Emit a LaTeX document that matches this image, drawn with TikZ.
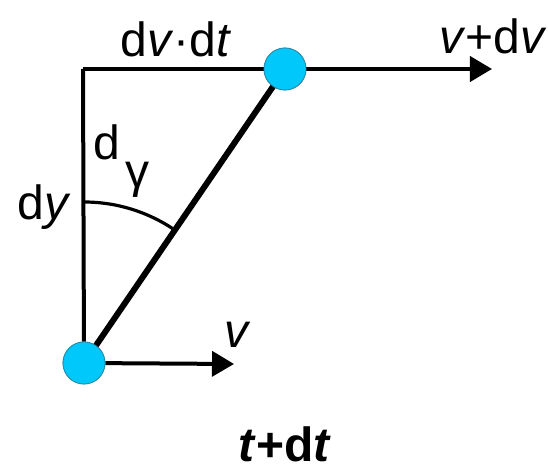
\documentclass[tikz,border=0pt]{standalone}
\usepackage{fontspec}
\setmainfont{Liberation Sans}
\usetikzlibrary{positioning,arrows.meta}
\definecolor{ballblue}{RGB}{0,200,250}
\definecolor{ballrim}{RGB}{40,140,170}

\begin{document}
\begin{tikzpicture}[
  x=0.5pt, y=-0.5pt,
  >={Triangle[length=11pt,width=12.5pt]},
  ball/.style={circle, fill=ballblue, draw=ballrim, line width=0.4pt,
               minimum size=21pt, inner sep=0pt},
  lbl/.style={font=\fontsize{24}{28}\selectfont, inner sep=0pt, anchor=base},
  bar/.style={line width=2pt},
  rod/.style={line width=3pt}
]
  \useasboundingbox (0,0) rectangle (548,470);

  \coordinate (corner) at (83,69);
  \coordinate (toptip) at (492,69);
  \coordinate (bottip) at (234,364);
  \node[ball] (upper) at (285,69) {};
  \node[ball] (lower) at (84,363) {};

  \draw[bar] (corner) -- (upper);
  \draw[bar] (corner) -- (lower);
  \draw[bar, ->] (upper) -- (toptip);
  \draw[bar, ->] (lower) -- (bottip);
  \draw[rod] (lower.center) -- (upper.center);
  \draw[line width=1.6pt] (lower.center) ++(90:80.5pt) arc[start angle=90, end angle=55.6, radius=80.5pt];

  % balls again on top of the lines
  \node[ball] at (upper.center) {};
  \node[ball] at (lower.center) {};

  \node[lbl] (dvdt) at (176,57) {d\textit{v}·d\textit{t}};
  \node[lbl] (vdv) at (493,54) {\textit{v}+d\textit{v}};
  \node[lbl] (dgam) at (107,160) {d};
  \node[lbl] (gam) at (138,188) {γ};
  \node[lbl] (dy) at (44,220) {d\textit{y}};
  \node[lbl] (vel) at (238,348) {\textit{v}};
  \node[lbl, font=\fontsize{24}{28}\selectfont\bfseries\itshape] (time) at (284,462) {t\textup{+d}t};
\end{tikzpicture}
\end{document}
